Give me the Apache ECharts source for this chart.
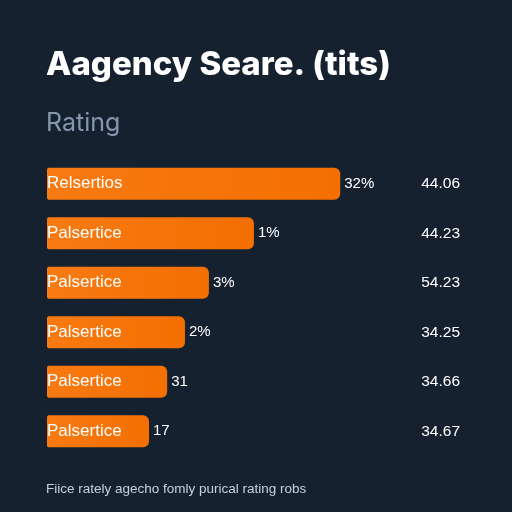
<!DOCTYPE html>
<html style="height: 100%;">
<head>
<meta charset="utf-8">
<script src="https://cdn.jsdelivr.net/npm/echarts@6/dist/echarts.min.js"></script>
</head>
<body style="height: 100%; margin: 0; background-color: #162130;">
<div id="container" style="width: 512px; height: 512px;"></div>
<script type="text/javascript">
// data
var categories = ['Relsertios', 'Palsertice', 'Palsertice', 'Palsertice', 'Palsertice', 'Palsertice'];
var barValues = [71, 50.1, 39.2, 33.4, 29.1, 24.7];
var barLabels = ['32%', '1%', '3%', '2%', '31', '17'];
var ratings = ['44.06', '44.23', '54.23', '34.25', '34.66', '34.67'];

var dom = document.getElementById('container');
var myChart = echarts.init(dom);

var option = {
    backgroundColor: '#162130',
    title: [{
        text: 'Aagency Seare. (tits)',
        left: 46,
        top: 49,
        padding: 0,
        textStyle: { color: '#ffffff', fontFamily: 'Inter', fontWeight: 800, fontSize: 33 }
    }, {
        text: 'Rating',
        left: 46,
        top: 111,
        padding: 0,
        textStyle: { color: '#8797ab', fontFamily: 'Inter', fontWeight: 'normal', fontSize: 25 }
    }, {
        text: 'Fiice rately agecho fomly purical rating robs',
        left: 46,
        top: 482,
        padding: 0,
        textStyle: { color: '#c9d0d9', fontFamily: 'Liberation Sans', fontWeight: 'normal', fontSize: 13.5 }
    }],
    grid: { left: 47, right: 52, top: 159, bottom: 56 },
    xAxis: {
        type: 'value',
        min: 0,
        max: 100,
        show: false
    },
    yAxis: [{
        type: 'category',
        inverse: true,
        data: categories,
        z: 5,
        axisLine: { show: false },
        axisTick: { show: false },
        axisLabel: {
            inside: true,
            margin: 0,
            color: '#ffffff',
            fontFamily: 'Liberation Sans',
            fontWeight: 500,
            fontSize: 17
        }
    }, {
        type: 'category',
        inverse: true,
        position: 'right',
        data: ratings,
        axisLine: { show: false },
        axisTick: { show: false },
        axisLabel: {
            inside: true,
            margin: 0,
            color: '#ffffff',
            fontFamily: 'Liberation Sans',
            fontSize: 15.5
        }
    }],
    series: [{
        type: 'bar',
        data: barValues,
        barWidth: 32,
        itemStyle: {
            borderRadius: [2, 6, 6, 2],
            color: new echarts.graphic.LinearGradient(0, 0, 1, 0, [
                { offset: 0, color: '#f77a12' },
                { offset: 1, color: '#f46f00' }
            ])
        },
        label: {
            show: true,
            position: 'right',
            distance: 4,
            color: '#ffffff',
            fontFamily: 'Liberation Sans',
            fontSize: 15,
            formatter: function (p) { return barLabels[p.dataIndex]; }
        }
    }]
};
myChart.setOption(option);
</script>
</body>
</html>
